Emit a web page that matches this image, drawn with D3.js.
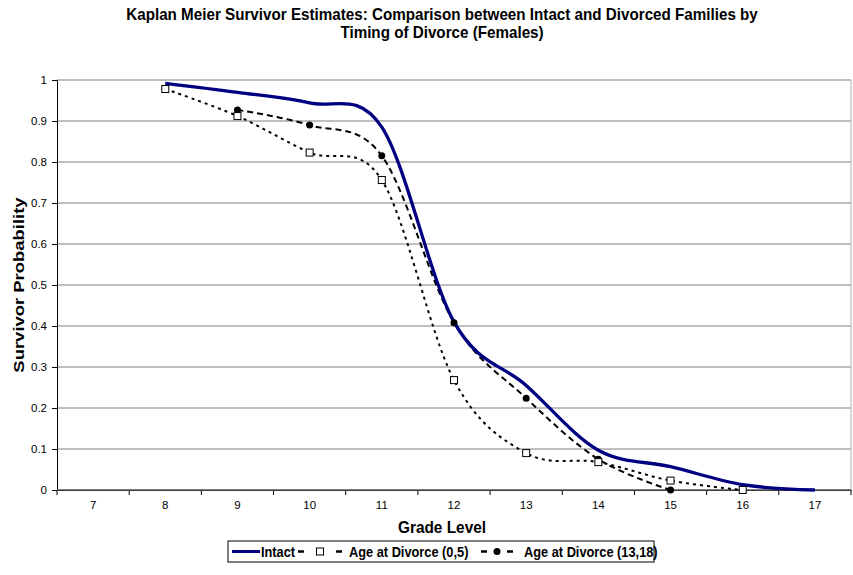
<!DOCTYPE html>
<html>
<head>
<meta charset="utf-8">
<script src="https://cdn.jsdelivr.net/npm/d3@7"></script>
<style>
  html, body { margin: 0; padding: 0; background: #fff; }
  svg text { font-family: "Liberation Sans", Arial, sans-serif; }
</style>
</head>
<body>
<svg id="chart" width="853" height="575"></svg>
<script>
// Grade levels on the category axis
const grades = [7, 8, 9, 10, 11, 12, 13, 14, 15, 16, 17];
const yTicks = [0, 0.1, 0.2, 0.3, 0.4, 0.5, 0.6, 0.7, 0.8, 0.9, 1];

// Kaplan-Meier survivor estimates per grade
const intactGrades = [8, 9, 10, 11, 12, 13, 14, 15, 16, 17];
const intactValues = [0.992, 0.97, 0.944, 0.885, 0.41, 0.255, 0.097, 0.057, 0.013, 0];

const early = [8, 9, 10, 11, 12, 13, 14, 15, 16];
const earlyValues = [0.978, 0.912, 0.823, 0.756, 0.268, 0.09, 0.068, 0.023, 0];

const late = [9, 10, 11, 12, 13, 14, 15];
const lateValues = [0.927, 0.89, 0.815, 0.408, 0.224, 0.075, 0];

const svg = d3.select("#chart");
const plotLeft = 57, plotRight = 851, plotTop = 80, plotBottom = 490;

const x = d3.scaleBand().domain(grades).range([plotLeft, plotRight]).padding(0);
const y = d3.scaleLinear().domain([0, 1]).range([plotBottom, plotTop]);
const cx = g => x(g) + x.bandwidth() / 2;

// Text drawn slightly taller than wide, as in the original export
function tallText(sel, px, py, size, stretch, str, anchor) {
  return sel.append("text")
    .attr("transform", `translate(${px},${py}) scale(1,${stretch})`)
    .attr("text-anchor", anchor || "middle")
    .attr("font-size", size).attr("font-weight", "bold")
    .text(str);
}

// Title
tallText(svg, 442, 20, 15.2, 1.05, "Kaplan Meier Survivor Estimates: Comparison between Intact and Divorced Families by");
tallText(svg, 442, 38, 15.2, 1.05, "Timing of Divorce (Females)");

// Horizontal gridlines
svg.append("g").selectAll("line").data(yTicks.filter(d => d > 0)).join("line")
  .attr("x1", plotLeft).attr("x2", plotRight)
  .attr("y1", d => y(d)).attr("y2", d => y(d))
  .attr("stroke", "#808080").attr("stroke-width", 1.2);
svg.append("line").attr("x1", plotRight).attr("x2", plotRight)
  .attr("y1", plotTop).attr("y2", plotBottom)
  .attr("stroke", "#b0b0b0").attr("stroke-width", 1);

// Y axis
const yAxis = svg.append("g").attr("transform", `translate(${plotLeft},0)`)
  .call(d3.axisLeft(y).tickValues(yTicks).tickSize(5).tickFormat(d3.format("")));
yAxis.select(".domain").attr("stroke", "#000").attr("stroke-width", 1);
yAxis.selectAll("line").attr("stroke", "#000");
yAxis.selectAll("text").attr("font-size", 11.5).attr("font-family", "Liberation Sans, Arial, sans-serif").attr("dx", -2);

// X axis with ticks at the category boundaries
const xAxis = svg.append("g").attr("transform", `translate(0,${plotBottom})`)
  .call(d3.axisBottom(x).tickSize(0).tickPadding(11));
xAxis.select(".domain").attr("stroke", "#000");
xAxis.selectAll("text").attr("font-size", 11.5).attr("font-family", "Liberation Sans, Arial, sans-serif");
xAxis.append("g").selectAll("line").data(grades.concat([null])).join("line")
  .attr("x1", (d, i) => plotLeft + i * x.bandwidth()).attr("x2", (d, i) => plotLeft + i * x.bandwidth())
  .attr("y1", 0).attr("y2", 5).attr("stroke", "#000");
svg.append("line").attr("x1", plotLeft).attr("x2", plotRight).attr("y1", plotBottom).attr("y2", plotBottom)
  .attr("stroke", "#555").attr("stroke-width", 1.5);

// Axis titles
tallText(svg, 442, 533, 15.4, 1.12, "Grade Level");
svg.append("text").attr("transform", "translate(24,285) rotate(-90) scale(1.3,1)")
  .attr("text-anchor", "middle")
  .attr("font-size", 14.2).attr("font-weight", "bold").text("Survivor Probability");

const line = d3.line().curve(d3.curveCardinal.tension(0));

// Series
const early_pts = early.map((g, i) => [cx(g), y(earlyValues[i])]);
const late_pts = late.map((g, i) => [cx(g), y(lateValues[i])]);
const intact_pts = intactGrades.map((g, i) => [cx(g), y(intactValues[i])]);

svg.append("path").attr("d", line(late_pts)).attr("fill", "none")
  .attr("stroke", "#000").attr("stroke-width", 2).attr("stroke-dasharray", "6,4");
svg.append("path").attr("d", line(early_pts)).attr("fill", "none")
  .attr("stroke", "#000").attr("stroke-width", 2).attr("stroke-dasharray", "3,4");
svg.append("path").attr("d", line(intact_pts)).attr("fill", "none")
  .attr("stroke", "#000080").attr("stroke-width", 3.3);

svg.append("g").selectAll("circle").data(late_pts).join("circle")
  .attr("cx", d => d[0]).attr("cy", d => d[1]).attr("r", 3.5).attr("fill", "#000");
svg.append("g").selectAll("rect").data(early_pts).join("rect")
  .attr("x", d => d[0] - 3.5).attr("y", d => d[1] - 3.5).attr("width", 7).attr("height", 7)
  .attr("fill", "#fff").attr("stroke", "#000").attr("stroke-width", 1);

// Legend
const lg = svg.append("g").attr("transform", "translate(228,541)");
lg.append("rect").attr("x", 0).attr("y", 0).attr("width", 426).attr("height", 21)
  .attr("fill", "#fff").attr("stroke", "#000").attr("stroke-width", 1);
lg.append("line").attr("x1", 4).attr("x2", 32).attr("y1", 10.5).attr("y2", 10.5)
  .attr("stroke", "#000080").attr("stroke-width", 3);
tallText(lg, 33, 15.5, 12.8, 1.15, "Intact", "start");

// dash - square - dash sample
lg.append("line").attr("x1", 70).attr("x2", 76).attr("y1", 10.5).attr("y2", 10.5)
  .attr("stroke", "#000").attr("stroke-width", 2.5);
lg.append("line").attr("x1", 108).attr("x2", 114).attr("y1", 10.5).attr("y2", 10.5)
  .attr("stroke", "#000").attr("stroke-width", 2.5);
lg.append("rect").attr("x", 88.5).attr("y", 7).attr("width", 7).attr("height", 7)
  .attr("fill", "#fff").attr("stroke", "#000");
tallText(lg, 121, 15.5, 12.8, 1.15, "Age at Divorce (0,5)", "start");

// dash - circle - dash sample
lg.append("line").attr("x1", 253).attr("x2", 259).attr("y1", 10.5).attr("y2", 10.5)
  .attr("stroke", "#000").attr("stroke-width", 2.5);
lg.append("line").attr("x1", 279).attr("x2", 285).attr("y1", 10.5).attr("y2", 10.5)
  .attr("stroke", "#000").attr("stroke-width", 2.5);
lg.append("circle").attr("cx", 269).attr("cy", 10.5).attr("r", 3.5).attr("fill", "#000");
tallText(lg, 296, 15.5, 12.8, 1.15, "Age at Divorce (13,18)", "start");
</script>
</body>
</html>
